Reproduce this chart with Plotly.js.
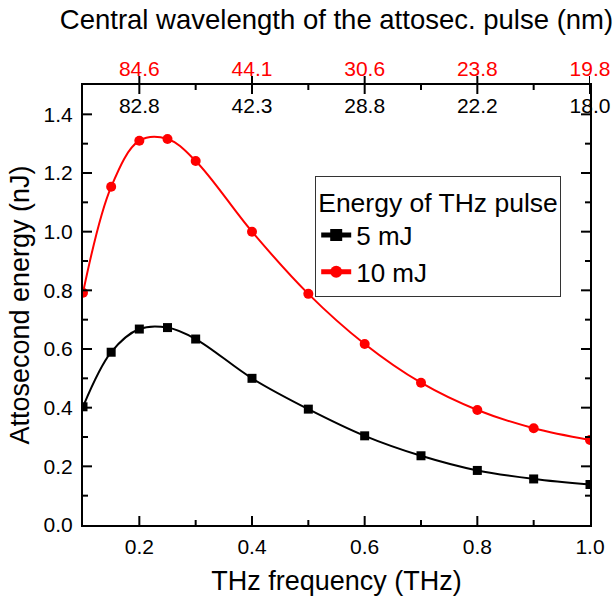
<!DOCTYPE html>
<html>
<head>
<meta charset="utf-8">
<script src="https://cdn.plot.ly/plotly-3.0.1.min.js"></script>
<style>
html,body{margin:0;padding:0;background:#fff;}
#chart{width:615px;height:604px;}
</style>
</head>
<body>
<div id="chart"></div>
<script>
// THz frequency (THz)
const freq = [0.1, 0.15, 0.2, 0.25, 0.3, 0.4, 0.5, 0.6, 0.7, 0.8, 0.9, 1.0];
// Attosecond energy (nJ)
const energy5mJ  = [0.403, 0.589, 0.668, 0.673, 0.634, 0.500, 0.395, 0.304, 0.236, 0.186, 0.157, 0.138];
const energy10mJ = [0.792, 1.153, 1.310, 1.316, 1.241, 1.000, 0.788, 0.617, 0.485, 0.392, 0.330, 0.290];
// top-axis tick positions and wavelength labels (nm)
const topTickVals = [0.2, 0.4, 0.6, 0.8, 1.0];
const wavelength5mJ  = ['82.8', '42.3', '28.8', '22.2', '18.0'];
const wavelength10mJ = ['84.6', '44.1', '30.6', '23.8', '19.8'];
// frame tick positions (axis values)
const xMajorTicks = [0.2, 0.4, 0.6, 0.8];
const xMinorTicks = [0.3, 0.5, 0.7, 0.9];
const yMajorTicks = [0.2, 0.4, 0.6, 0.8, 1.0, 1.2, 1.4];
const yMinorTicks = [0.1, 0.3, 0.5, 0.7, 0.9, 1.1, 1.3];
// axis extents
const xLimits = [0.1, 1.0];
const yLimits = [0, 1.5];

const FONT = 'Liberation Sans, Arial, sans-serif';
const TICK_LINE = {color: '#000000', width: 2};

// tick marks drawn through the axes' own scales (value on one axis, pixel length on the other)
const shapes = [];
function xTick(v, len, top) {
  shapes.push({type: 'line', layer: 'above', xref: 'x', yref: 'paper', ysizemode: 'pixel',
               yanchor: top ? 1 : 0, x0: v, x1: v, y0: 0, y1: top ? -len : len, line: TICK_LINE});
}
function yTick(v, len, right) {
  shapes.push({type: 'line', layer: 'above', yref: 'y', xref: 'paper', xsizemode: 'pixel',
               xanchor: right ? 1 : 0, y0: v, y1: v, x0: 0, x1: right ? -len : len, line: TICK_LINE});
}
xMajorTicks.forEach(v => { xTick(v, 9, false); });
xMinorTicks.forEach(v => { xTick(v, 5, false); xTick(v, 5, true); });
// top major ticks cross the frame line (inward + outward)
topTickVals.forEach(v => {
  shapes.push({type: 'line', layer: 'above', xref: 'x', yref: 'paper', ysizemode: 'pixel',
               yanchor: 1, x0: v, x1: v, y0: -9, y1: 9, line: TICK_LINE});
});
yMajorTicks.forEach(v => { yTick(v, 9, false); yTick(v, 9, true); });
yMinorTicks.forEach(v => { yTick(v, 5, false); yTick(v, 5, true); });

const traces = [
  {
    x: freq, y: energy5mJ, name: '5 mJ', type: 'scatter', mode: 'lines+markers',
    line: {color: '#000000', width: 2, shape: 'spline', smoothing: 1},
    marker: {symbol: 'square', size: 9, color: '#000000'}
  },
  {
    x: freq, y: energy10mJ, name: '10 mJ', type: 'scatter', mode: 'lines+markers',
    line: {color: '#ff0000', width: 2, shape: 'spline', smoothing: 1},
    marker: {symbol: 'circle', size: 10, color: '#ff0000'}
  },
  // invisible helper traces that activate the two top (wavelength) label axes
  {x: xLimits, y: [0, 0], xaxis: 'x2', yaxis: 'y2', mode: 'markers', marker: {opacity: 0}, showlegend: false, hoverinfo: 'skip'},
  {x: xLimits, y: [0, 0], xaxis: 'x3', yaxis: 'y3', mode: 'markers', marker: {opacity: 0}, showlegend: false, hoverinfo: 'skip'}
];

const layout = {
  width: 615, height: 604,
  margin: {l: 83, r: 25, t: 85, b: 79},
  paper_bgcolor: '#ffffff', plot_bgcolor: '#ffffff',
  font: {family: FONT, color: '#000000', size: 21},
  showlegend: true,
  shapes: shapes,
  title: {
    text: 'Central wavelength of the attosec. pulse (nm)',
    font: {family: FONT, size: 27.5, color: '#000000'},
    x: 0.5, xref: 'paper', y: 1 - 19/604, yref: 'container', yanchor: 'middle'
  },
  xaxis: {
    range: xLimits, tick0: 0, dtick: 0.2, tickformat: '.1f',
    showgrid: false, zeroline: false,
    showline: true, linecolor: '#000000', linewidth: 2, mirror: true,
    ticks: '',
    tickfont: {size: 21, family: FONT},
    ticklabelstandoff: 2,
    title: {text: 'THz frequency (THz)', font: {size: 27, family: FONT}, standoff: 14}
  },
  yaxis: {
    domain: [0, 1],
    range: yLimits, tick0: 0, dtick: 0.2, tickformat: '.1f',
    showgrid: false, zeroline: false,
    showline: true, linecolor: '#000000', linewidth: 2, mirror: true,
    ticks: '',
    tickfont: {size: 21, family: FONT},
    ticklabelstandoff: 4,
    title: {text: 'Attosecond energy (nJ)', font: {size: 27, family: FONT}, standoff: 6}
  },
  // red wavelength labels, above the top frame line
  xaxis2: {
    anchor: 'y2', side: 'top', range: xLimits,
    tickmode: 'array', tickvals: topTickVals, ticktext: wavelength10mJ,
    showgrid: false, zeroline: false, showline: false,
    ticks: '',
    tickfont: {size: 21, family: FONT, color: '#ff0000'},
    ticklabelstandoff: 4
  },
  yaxis2: {domain: [0.995, 1], range: [0, 1], visible: false, showgrid: false, zeroline: false},
  // black wavelength labels, just below the top frame line
  xaxis3: {
    anchor: 'y3', side: 'top', range: xLimits,
    tickmode: 'array', tickvals: topTickVals, ticktext: wavelength5mJ,
    showgrid: false, zeroline: false, showline: false,
    ticks: '',
    tickfont: {size: 21, family: FONT, color: '#000000'}
  },
  yaxis3: {domain: [0.9, 0.925], range: [0, 1], visible: false, showgrid: false, zeroline: false},
  legend: {
    x: 0.458, y: 0.793, xanchor: 'left', yanchor: 'top',
    bgcolor: '#ffffff', bordercolor: '#333333', borderwidth: 1,
    font: {size: 26, family: FONT, color: '#000000'},
    title: {text: 'Energy of THz pulse', font: {size: 26.5, family: FONT, color: '#000000'}},
    tracegroupgap: 0, itemsizing: 'constant'
  }
};

Plotly.newPlot('chart', traces, layout, {displayModeBar: false, staticPlot: true});
</script>
</body>
</html>
